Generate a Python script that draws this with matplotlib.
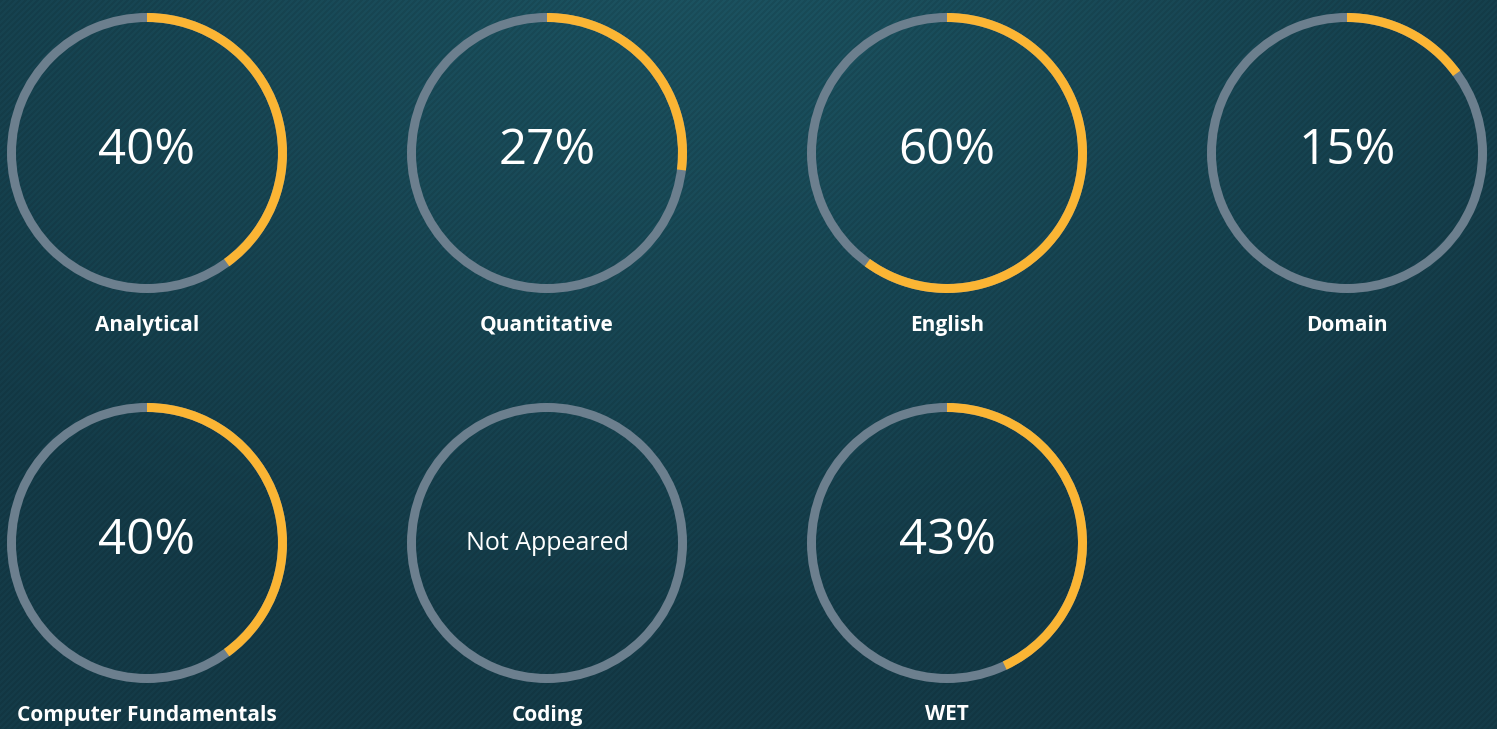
import matplotlib
matplotlib.use("Agg")
import matplotlib.pyplot as plt
import numpy as np
from matplotlib.patches import Wedge

# Section scores (None = section not attempted)
sections = ["Analytical", "Quantitative", "English", "Domain",
            "Computer Fundamentals", "Coding", "WET"]
scores = [40, 27, 60, 15, 40, None, 43]

W, H = 1497, 729
N_COLS = 4
COL_STEP, ROW_STEP = 400, 390
X0, Y0 = 147, 153
RADIUS, RING = 140, 9

TRACK = "#6c7f8e"
FILL = "#fbb534"

plt.rcParams["font.family"] = ["Open Sans", "DejaVu Sans"]

fig = plt.figure(figsize=(W / 100, H / 100), dpi=100)
ax = fig.add_axes([0, 0, 1, 1])
ax.set_xlim(0, W)
ax.set_ylim(0, H)
ax.set_aspect("auto")
ax.axis("off")

# Background: dark teal, lighter near the top middle, with fine diagonal stripes
yy, xx = np.mgrid[0:H, 0:W]
dist = np.sqrt(((xx - 700) / 1000.0) ** 2 + ((yy + 50) / 700.0) ** 2)
t = np.clip(dist, 0, 1)[..., None]
light = np.array([0x1c, 0x54, 0x62]) / 255.0
dark = np.array([0x14, 0x3b, 0x48]) / 255.0
bg = light * (1 - t) + dark * t
stripes = ((xx + yy) % 6 < 3)[..., None]
bg = bg * np.where(stripes, 0.92, 1.0)
ax.imshow(bg, extent=[0, W, 0, H], origin="upper", zorder=0, aspect="auto")

for i, (name, score) in enumerate(zip(sections, scores)):
    col, row = i % N_COLS, i // N_COLS
    cx = X0 + col * COL_STEP
    cy = H - (Y0 + row * ROW_STEP)

    # grey track ring
    ax.add_patch(Wedge((cx, cy), RADIUS, 0, 360, width=RING,
                       facecolor=TRACK, edgecolor="none", zorder=2))
    if score is not None:
        # progress arc, clockwise from 12 o'clock
        ax.add_patch(Wedge((cx, cy), RADIUS, 90 - score * 3.6, 90, width=RING,
                           facecolor=FILL, edgecolor="none", zorder=3))
        ax.text(cx, cy + 2, f"{score}%", color="white", fontsize=35.5,
                ha="center", va="center", zorder=4)
    else:
        ax.text(cx, cy - 1, "Not Appeared", color="white", fontsize=18,
                ha="center", va="center", zorder=4)

    ax.text(cx, cy - 172, name, color="white", fontsize=15, fontweight="bold",
            ha="center", va="center", zorder=4)

fig.savefig("out.png", dpi=100)
